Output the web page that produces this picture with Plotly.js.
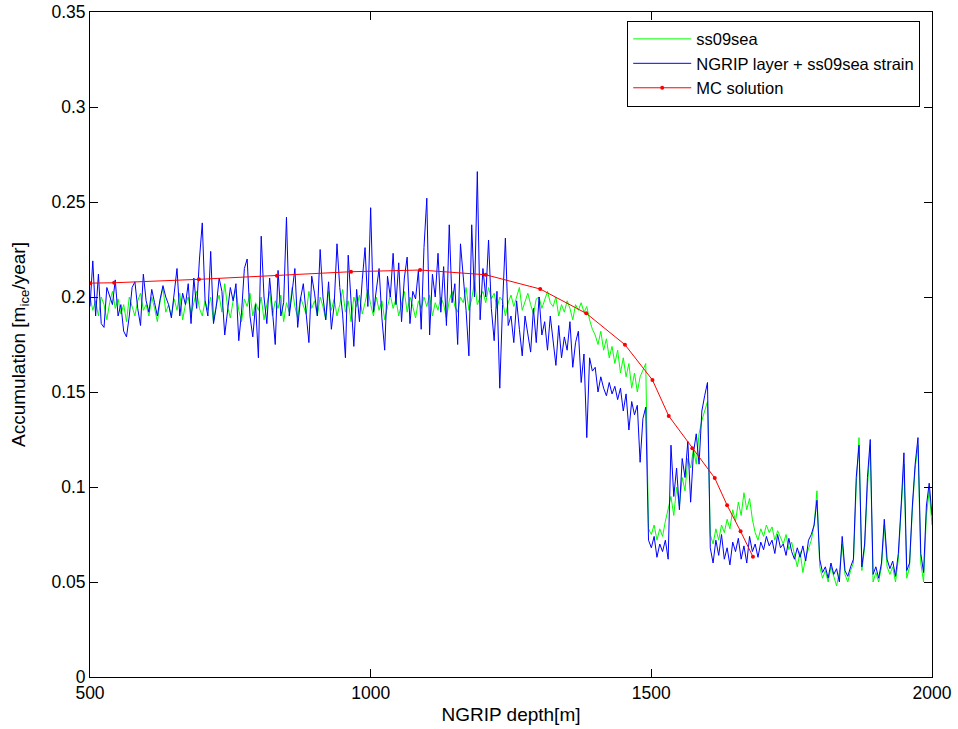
<!DOCTYPE html>
<html>
<head>
<meta charset="utf-8">
<script src="https://cdn.plot.ly/plotly-3.0.1.min.js"></script>
<style>html,body{margin:0;padding:0;background:#fff;}#chart{width:958px;height:729px;}</style>
</head>
<body>
<div id="chart"></div>
<script>
// Depth sampling of the two accumulation series (m), every 5 m from 500 to 2000
const depthStart = 500;
const depthStep = 5;

// NGRIP layer + ss09sea strain (blue)
const ngripLayer = [
  0.195,0.219,0.19,0.212,0.186,0.184,0.205,0.201,0.196,0.209,0.19,0.196,0.182,0.179,0.19,0.205,0.208,0.194,0.185,0.212,
  0.198,0.192,0.204,0.197,0.19,0.199,0.206,0.2,0.196,0.189,0.202,0.215,0.19,0.202,0.196,0.207,0.186,0.21,0.194,0.22,
  0.239,0.198,0.19,0.224,0.186,0.195,0.21,0.203,0.18,0.194,0.205,0.198,0.207,0.177,0.192,0.215,0.22,0.19,0.179,0.196,
  0.168,0.232,0.2,0.186,0.21,0.193,0.175,0.214,0.19,0.197,0.242,0.19,0.203,0.215,0.184,0.199,0.207,0.193,0.176,0.211,
  0.202,0.19,0.225,0.2,0.188,0.208,0.183,0.196,0.228,0.205,0.191,0.168,0.222,0.198,0.174,0.204,0.187,0.209,0.226,0.195,
  0.247,0.192,0.204,0.215,0.189,0.172,0.211,0.2,0.223,0.196,0.218,0.187,0.21,0.221,0.186,0.203,0.199,0.214,0.183,0.226,
  0.252,0.18,0.212,0.2,0.223,0.192,0.216,0.185,0.238,0.197,0.207,0.175,0.228,0.21,0.193,0.169,0.238,0.2,0.266,0.188,
  0.215,0.2,0.23,0.194,0.177,0.203,0.152,0.196,0.231,0.185,0.19,0.176,0.198,0.183,0.169,0.19,0.181,0.171,0.194,0.176,
  0.2,0.18,0.187,0.172,0.19,0.175,0.164,0.185,0.168,0.179,0.172,0.187,0.163,0.176,0.182,0.155,0.17,0.126,0.168,0.161,
  0.163,0.15,0.158,0.152,0.148,0.155,0.149,0.153,0.146,0.152,0.14,0.149,0.13,0.145,0.138,0.143,0.113,0.136,0.142,0.072,
  0.068,0.074,0.063,0.07,0.066,0.072,0.062,0.122,0.095,0.11,0.088,0.115,0.105,0.124,0.092,0.118,0.128,0.112,0.14,0.148,
  0.155,0.068,0.06,0.072,0.064,0.075,0.062,0.068,0.059,0.071,0.066,0.073,0.062,0.069,0.06,0.074,0.066,0.07,0.063,0.071,
  0.067,0.074,0.069,0.072,0.065,0.075,0.068,0.07,0.064,0.073,0.066,0.062,0.068,0.063,0.069,0.061,0.072,0.075,0.08,0.093,
  0.062,0.055,0.058,0.052,0.06,0.054,0.057,0.05,0.074,0.056,0.053,0.058,0.062,0.105,0.122,0.058,0.07,0.105,0.125,0.054,
  0.058,0.052,0.06,0.083,0.062,0.057,0.061,0.053,0.065,0.09,0.118,0.056,0.06,0.09,0.112,0.126,0.065,0.055,0.09,0.102,
  0.085
];

// ss09sea (green)
const ss09sea = [
  0.2,0.193,0.198,0.19,0.2,0.196,0.188,0.197,0.203,0.194,0.199,0.191,0.196,0.187,0.2,0.195,0.19,0.198,0.202,0.193,
  0.196,0.19,0.2,0.194,0.187,0.198,0.205,0.192,0.196,0.19,0.199,0.193,0.202,0.188,0.196,0.2,0.191,0.197,0.203,0.194,
  0.19,0.198,0.193,0.2,0.187,0.196,0.201,0.192,0.207,0.195,0.189,0.198,0.204,0.193,0.187,0.199,0.195,0.202,0.19,0.197,
  0.193,0.2,0.188,0.196,0.203,0.19,0.198,0.194,0.201,0.187,0.197,0.192,0.205,0.195,0.189,0.2,0.196,0.191,0.203,0.194,
  0.198,0.19,0.2,0.195,0.188,0.203,0.193,0.199,0.19,0.196,0.204,0.192,0.198,0.187,0.2,0.195,0.201,0.191,0.197,0.204,
  0.196,0.19,0.2,0.193,0.198,0.188,0.195,0.201,0.194,0.199,0.19,0.197,0.203,0.192,0.2,0.195,0.189,0.198,0.194,0.2,
  0.195,0.201,0.19,0.197,0.193,0.2,0.196,0.189,0.198,0.203,0.195,0.192,0.2,0.197,0.205,0.193,0.199,0.208,0.196,0.2,
  0.203,0.197,0.205,0.199,0.202,0.194,0.2,0.198,0.19,0.197,0.201,0.195,0.2,0.205,0.193,0.198,0.202,0.196,0.191,0.199,
  0.2,0.194,0.198,0.203,0.197,0.195,0.2,0.19,0.196,0.192,0.198,0.194,0.188,0.196,0.193,0.197,0.192,0.195,0.188,0.183,
  0.18,0.175,0.182,0.172,0.178,0.168,0.174,0.165,0.172,0.16,0.168,0.158,0.165,0.152,0.16,0.15,0.158,0.162,0.165,0.078,
  0.075,0.08,0.072,0.078,0.074,0.082,0.088,0.095,0.085,0.1,0.09,0.105,0.098,0.115,0.11,0.12,0.112,0.128,0.135,0.14,
  0.145,0.075,0.07,0.078,0.072,0.08,0.076,0.083,0.078,0.088,0.082,0.092,0.085,0.097,0.088,0.094,0.083,0.076,0.072,0.078,
  0.074,0.08,0.076,0.079,0.072,0.077,0.073,0.07,0.075,0.067,0.071,0.064,0.058,0.066,0.055,0.063,0.068,0.072,0.08,0.098,
  0.058,0.052,0.056,0.05,0.058,0.053,0.048,0.055,0.07,0.054,0.05,0.056,0.06,0.1,0.126,0.056,0.068,0.1,0.122,0.05,
  0.055,0.05,0.058,0.08,0.058,0.054,0.058,0.05,0.062,0.088,0.112,0.052,0.058,0.088,0.11,0.122,0.06,0.05,0.085,0.098,
  0.08
];

// MC solution (red, with markers)
const mcDepth = [500, 543, 694, 833, 965, 1088, 1205, 1302, 1384, 1453, 1502, 1531, 1573, 1613, 1635, 1659, 1681];
const mcAccum = [0.2073, 0.2075, 0.2093, 0.2112, 0.2133, 0.2142, 0.2117, 0.2042, 0.1914, 0.1749, 0.1563, 0.1374, 0.1204, 0.1047, 0.0904, 0.0767, 0.0633];

const seriesNames = ['ss09sea', 'NGRIP layer + ss09sea strain', 'MC solution'];
const yTicks = [0, 0.05, 0.1, 0.15, 0.2, 0.25, 0.3, 0.35];
const xTicks = [500, 1000, 1500, 2000];

const depth = ss09sea.map((_, i) => depthStart + i * depthStep);

const traces = [
  {x: depth, y: ss09sea, name: seriesNames[0], type: 'scatter', mode: 'lines',
   line: {color: '#00ff00', width: 1}},
  {x: depth, y: ngripLayer, name: seriesNames[1], type: 'scatter', mode: 'lines',
   line: {color: '#0000ff', width: 1}},
  {x: mcDepth, y: mcAccum, name: seriesNames[2], type: 'scatter', mode: 'lines+markers',
   line: {color: '#ff0000', width: 1}, marker: {color: '#ff0000', size: 4}}
];

const fam = 'Liberation Sans, Arial, sans-serif';
const tickFont = {family: fam, size: 17.5, color: '#000'};
const titleFont = {family: fam, size: 19, color: '#000'};

const layout = {
  width: 958, height: 729,
  margin: {l: 90, r: 26, t: 12, b: 52},
  paper_bgcolor: '#fff', plot_bgcolor: '#fff',
  font: tickFont,
  showlegend: true,
  legend: {x: 0.986, xanchor: 'right', y: 0.987, yanchor: 'top',
           bgcolor: '#fff', bordercolor: '#000', borderwidth: 1,
           font: {family: fam, size: 16.5, color: '#000'},
           tracegroupgap: 0, itemwidth: 58},
  xaxis: {range: [500, 2000], tickvals: xTicks, ticktext: xTicks.map(String),
          ticks: 'inside', ticklen: 8, tickcolor: '#000', showline: true, linecolor: '#000', linewidth: 1,
          mirror: 'ticks', showgrid: false, zeroline: false,
          title: {text: 'NGRIP depth[m]', font: titleFont, standoff: 5}, tickfont: tickFont},
  yaxis: {range: [0, 0.35], tickvals: yTicks, ticktext: yTicks.map(String),
          ticks: 'inside', ticklen: 8, tickcolor: '#000', showline: true, linecolor: '#000', linewidth: 1,
          mirror: 'ticks', showgrid: false, zeroline: false,
          title: {text: 'Accumulation [m<sub>ice</sub>/year]', font: titleFont, standoff: 20}, tickfont: tickFont}
};

Plotly.newPlot('chart', traces, layout, {displayModeBar: false, staticPlot: true});
</script>
</body>
</html>
